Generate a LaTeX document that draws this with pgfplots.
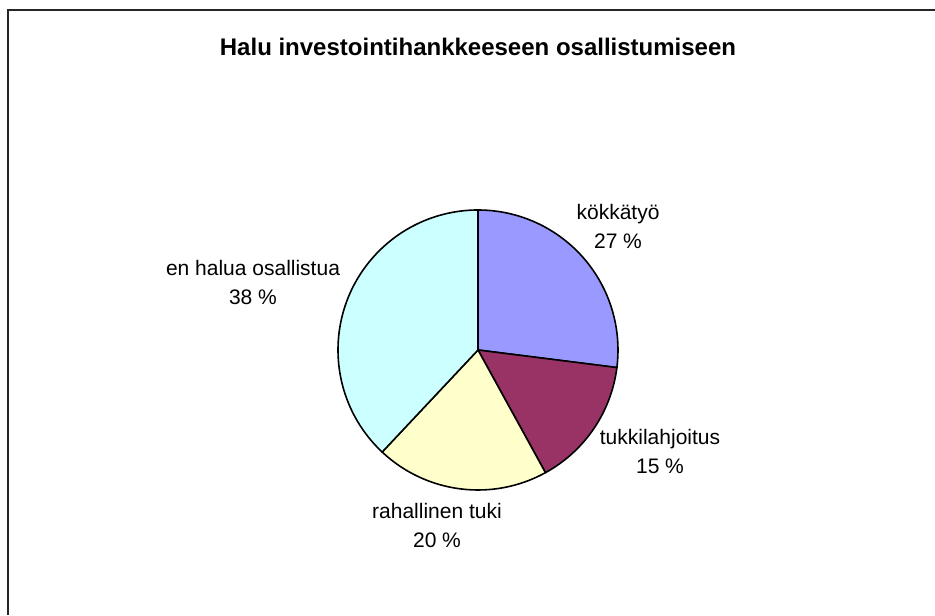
\documentclass[border=0pt]{standalone}
\usepackage{pgfplots}
\usepackage{pgfplotstable}
\pgfplotsset{compat=1.18}
\usepackage{fontspec}
\setmainfont{Liberation Sans}
\definecolor{cA}{HTML}{9999FF}
\definecolor{cB}{HTML}{993366}
\definecolor{cC}{HTML}{FFFFCC}
\definecolor{cD}{HTML}{CCFFFF}
\pgfplotstableread{
value color
27 cA
15 cB
20 cC
38 cD
}\piedata
\begin{document}
\begin{tikzpicture}
\begin{axis}[
  x=0.5pt, y=0.5pt,
  xmin=0, xmax=935, ymin=0, ymax=615,
  hide axis, clip=false,
  anchor=origin, at={(0,0)},
]
\pgfmathsetmacro\cum{0}
\pgfplotsforeachungrouped \i in {0,...,3}{%
  \pgfplotstablegetelem{\i}{value}\of\piedata \let\v\pgfplotsretval
  \pgfplotstablegetelem{\i}{color}\of\piedata \let\col\pgfplotsretval
  \pgfmathsetmacro\sa{90-3.6*\cum}%
  \pgfmathsetmacro\ea{90-3.6*(\cum+\v)}%
  \edef\tmp{\noexpand\filldraw[fill=\col, draw=black, line width=0.8pt, line join=round] (axis cs:478,265) -- ++(\sa:70pt) arc[start angle=\sa, end angle=\ea, radius=70pt] -- cycle;}%
  \tmp
  \pgfmathsetmacro\cum{\cum+\v}%
}
\node[align=center, font=\fontsize{10.5}{14.5}\selectfont] at (axis cs:618,389) {kökkätyö\\27 \%};
\node[align=center, font=\fontsize{10.5}{14.5}\selectfont] at (axis cs:660,164) {tukkilahjoitus\\15 \%};
\node[align=center, font=\fontsize{10.5}{14.5}\selectfont] at (axis cs:437,90) {rahallinen tuki\\20 \%};
\node[align=center, font=\fontsize{10.5}{14.5}\selectfont] at (axis cs:253,333) {en halua osallistua\\38 \%};
\node[font=\fontsize{12}{14}\selectfont\bfseries] at (axis cs:478,568) {Halu investointihankkeeseen osallistumiseen};
\draw[line width=1pt, black!85] (axis cs:8,0) -- (axis cs:8,605) -- (axis cs:935,605);
\end{axis}
\pgfresetboundingbox
\path (0,0) rectangle (467.5pt,307.5pt);
\end{tikzpicture}
\end{document}
